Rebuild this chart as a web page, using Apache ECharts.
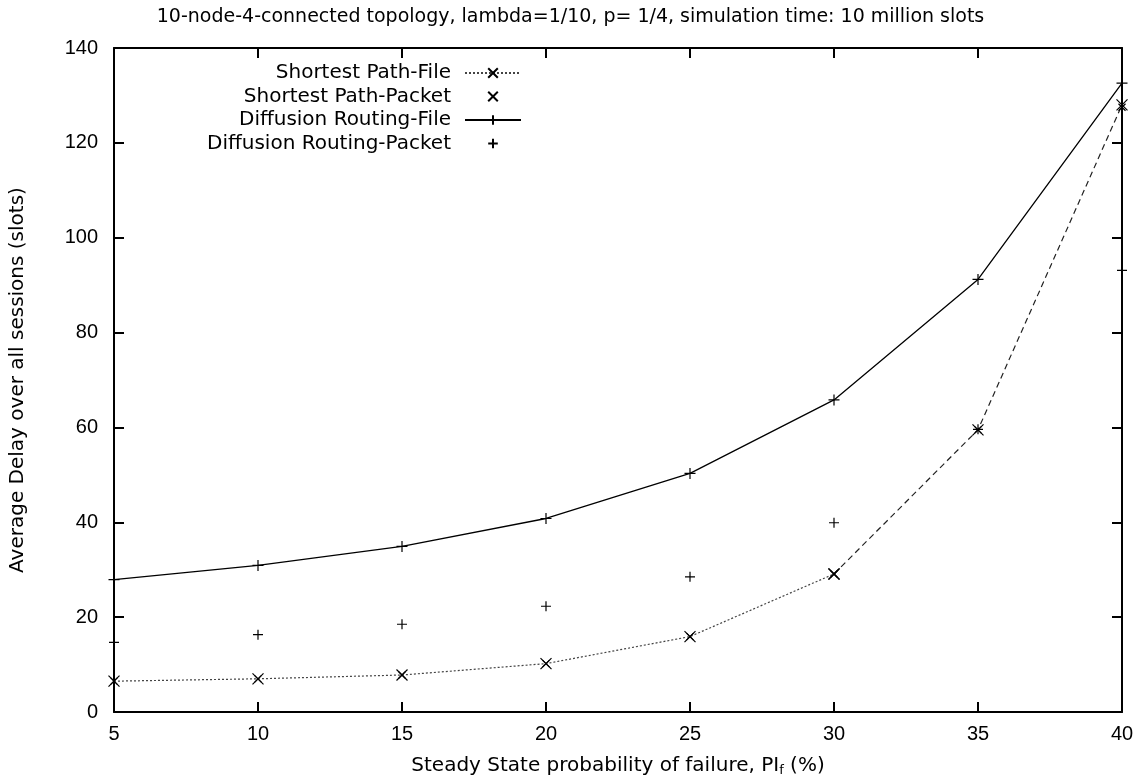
<!DOCTYPE html>
<html>
<head>
<meta charset="utf-8">
<script src="https://cdn.jsdelivr.net/npm/echarts@6/dist/echarts.min.js"></script>
<style>
html,body{margin:0;padding:0;background:#fff;}
#chart{width:1141px;height:782px;}
</style>
</head>
<body>
<div id="chart"></div>
<script>
// ---- data ----
var failureProb = [5, 10, 15, 20, 25, 30, 35, 40];
var shortestPathFile   = [6.5, 7.0, 7.8, 10.2, 15.9, 29.1, 59.5, 128.0];
var shortestPathPacket = [6.5, 7.0, 7.8, 10.2, 15.9, 29.1, 59.5, 127.5];
var diffusionFile      = [27.9, 30.9, 34.9, 40.8, 50.3, 65.8, 91.2, 132.6];
var diffusionPacket    = [14.7, 16.3, 18.5, 22.3, 28.5, 39.9, 59.6, 93.1];
var yTicks = [0, 20, 40, 60, 80, 100, 120, 140];
var xTicks = [5, 10, 15, 20, 25, 30, 35, 40];

var titleText = '10-node-4-connected topology, lambda=1/10, p= 1/4, simulation time: 10 million slots';
var yName = 'Average Delay over all sessions (slots)';
var names = ['Shortest Path-File', 'Shortest Path-Packet', 'Diffusion Routing-File', 'Diffusion Routing-Packet'];

function pairs(xs, ys) { return xs.map(function (x, i) { return [x, ys[i]]; }); }

var X_SYM = 'path://M0,0L10,10M10,0L0,10';
var P_SYM = 'path://M5,0L5,10M0,5L10,5';
var FONT = 'Liberation Sans';
var TFONT = 'DejaVu Sans';

var tailStart = 5; // dashed tail of the shortest-path curve (30 -> 40)

var chart = echarts.init(document.getElementById('chart'), null, {renderer: 'canvas'});
var axisCommon = {
  type: 'value',
  axisLine: {show: true, onZero: false, lineStyle: {color: '#000', width: 2}},
  axisTick: {show: true, inside: true, length: 10, lineStyle: {color: '#000', width: 2}},
  splitLine: {show: false}
};
chart.setOption({
  animation: false,
  backgroundColor: '#fff',
  title: {
    text: titleText, left: 'center', top: 3,
    textStyle: {fontFamily: TFONT, fontSize: 19, fontWeight: 'normal', color: '#000'}
  },
  grid: {left: 113, right: 19, top: 48, bottom: 69, containLabel: false},
  legend: {
    data: names,
    orient: 'vertical',
    align: 'right',
    right: 614,
    top: 58,
    itemWidth: 56,
    itemHeight: 12,
    itemGap: 3.5,
    selectedMode: false,
    textStyle: {fontFamily: TFONT, fontSize: 20, color: '#000', lineHeight: 20, padding: [0, 9, 0, 0]}
  },
  xAxis: [
    Object.assign({}, axisCommon, {
      min: 5, max: 40, interval: 5, position: 'bottom',
      name: 'Steady State probability of failure, PI{sub|f} (%)',
      nameLocation: 'middle', nameGap: 42,
      nameTextStyle: {fontFamily: TFONT, fontSize: 20, color: '#000',
        rich: {sub: {fontFamily: TFONT, fontSize: 13, color: '#000', padding: [10, 0, 0, 0]}}},
      axisLabel: {fontFamily: FONT, fontSize: 20, color: '#000', margin: 12,
        formatter: function (v) { return xTicks.indexOf(v) >= 0 ? String(v) : ''; }}
    }),
    Object.assign({}, axisCommon, {
      min: 5, max: 40, interval: 5, position: 'top', axisLabel: {show: false}
    })
  ],
  yAxis: [
    Object.assign({}, axisCommon, {
      min: 0, max: 140, interval: 20, position: 'left',
      name: yName, nameLocation: 'middle', nameGap: 86,
      nameTextStyle: {fontFamily: TFONT, fontSize: 20, color: '#000'},
      axisLabel: {fontFamily: FONT, fontSize: 20, color: '#000', margin: 16,
        formatter: function (v) { return yTicks.indexOf(v) >= 0 ? String(v) : ''; }}
    }),
    Object.assign({}, axisCommon, {
      min: 0, max: 140, interval: 20, position: 'right', axisLabel: {show: false}
    })
  ],
  series: [
    {
      name: names[0], type: 'line', data: pairs(failureProb.slice(0, tailStart + 1), shortestPathFile.slice(0, tailStart + 1)),
      symbol: X_SYM, symbolSize: 11, showAllSymbol: true,
      lineStyle: {color: '#444', width: 1.2, type: [2, 2]},
      itemStyle: {color: '#000', borderColor: '#000', borderWidth: 1.2},
      z: 3
    },
    {
      name: names[0] + ' tail', type: 'line', data: pairs(failureProb.slice(tailStart), shortestPathFile.slice(tailStart)),
      symbol: X_SYM, symbolSize: 11,
      lineStyle: {color: '#222', width: 1.2, type: [6, 4]},
      itemStyle: {color: '#000', borderColor: '#000', borderWidth: 1.2},
      z: 3
    },
    {
      name: names[1], type: 'line', data: pairs(failureProb, shortestPathPacket),
      symbol: X_SYM, symbolSize: 7,
      lineStyle: {opacity: 0, width: 0},
      itemStyle: {color: '#000', borderColor: '#000', borderWidth: 1.2},
      z: 4
    },
    {
      name: names[2], type: 'line', data: pairs(failureProb, diffusionFile),
      symbol: P_SYM, symbolSize: 11,
      lineStyle: {color: '#000', width: 1.3},
      itemStyle: {color: '#000', borderColor: '#000', borderWidth: 1.2},
      z: 3
    },
    {
      name: names[3], type: 'line', data: pairs(failureProb, diffusionPacket),
      symbol: P_SYM, symbolSize: 10,
      lineStyle: {opacity: 0, width: 0},
      itemStyle: {color: '#000', borderColor: '#000', borderWidth: 1.2},
      z: 4
    }
  ]
});
</script>
</body>
</html>
